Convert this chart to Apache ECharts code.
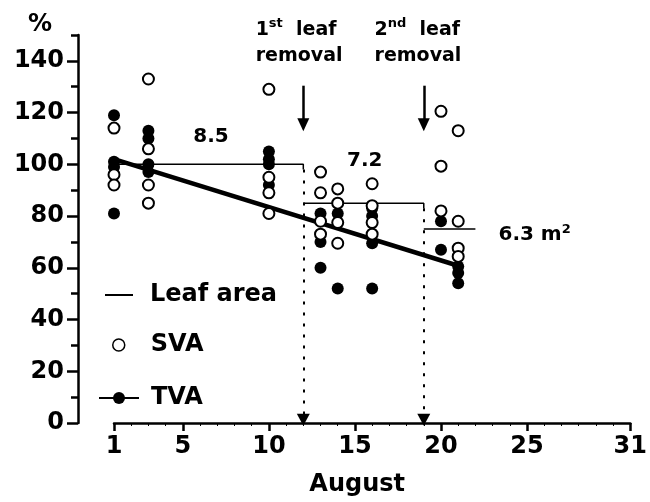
<!DOCTYPE html>
<html>
<head>
<meta charset="utf-8">
<script src="https://cdn.jsdelivr.net/npm/echarts@6/dist/echarts.min.js"></script>
<style>
  html, body { margin: 0; padding: 0; background: #fff; }
  #main { width: 650px; height: 502px; }
</style>
</head>
<body>
<div id="main"></div>
<script>
// x ticks / labels
var xTickDays = [1, 5, 10, 15, 20, 25, 31];
var yMajor = [0, 20, 40, 60, 80, 100, 120, 140];
var yMinor = [10, 30, 50, 70, 90, 110, 130, 150];

// TVA (filled dots)  [day, %]
var tvaPoints = [
    [1, 119], [1, 101], [1, 99], [1, 81],
    [3, 113], [3, 110], [3, 100], [3, 97],
    [10, 105], [10, 102], [10, 100], [10, 92],
    [13, 81], [13, 70], [13, 60],
    [14, 81], [14, 52],
    [16, 83], [16, 80], [16, 69.5], [16, 52],
    [20, 78], [20, 67],
    [21, 60.5], [21, 58], [21, 54]
];
// SVA (open dots)
var svaPoints = [
    [1, 114], [1, 96], [1, 92],
    [3, 133], [3, 106], [3, 92], [3, 85],
    [10, 129], [10, 95], [10, 89], [10, 81],
    [13, 97], [13, 89], [13, 78], [13, 73],
    [14, 90.5], [14, 85], [14, 77.5], [14, 69.5],
    [16, 92.5], [16, 84], [16, 77.5], [16, 73],
    [20, 120.5], [20, 99.3], [20, 82],
    [21, 113], [21, 78], [21, 67.6], [21, 64.4]
];
// TVA trend line
var tvaTrend = [[1, 102], [21, 60.8]];
// leaf area steps (m2 labels 8.5 / 7.2 / 6.3)
var leafArea = [[1, 100], [12, 100], [12, 98], [12, '-'],
    [12, 85], [19, 85], [19, 83], [19, '-'],
    [19, 75], [22, 75]];
var removalDays = [12, 19];

var FONT = 'DejaVu Sans';
var black = '#000';

var chart = echarts.init(document.getElementById('main'));

var supRich = {
    a: { fontSize: 19, fontWeight: 'bold', fontFamily: FONT, color: black, lineHeight: 26 },
    s: { fontSize: 13, fontWeight: 'bold', fontFamily: FONT, color: black, padding: [0, 0, 12, 0] }
};

var option = {
    backgroundColor: '#fff',
    animation: false,
    textStyle: { fontFamily: FONT, fontWeight: 'bold', color: black },
    grid: { left: 114, right: 15, top: 35, bottom: 70 },
    legend: [{
        left: 105, top: 281, padding: 0, selectedMode: false,
        itemWidth: 28, itemHeight: 2,
        textStyle: { fontFamily: FONT, fontWeight: 'bold', fontSize: 24, color: black, lineHeight: 28, padding: [0, 0, 0, 12] },
        data: [{ name: 'Leaf area', icon: 'path://M0,0h28v2h-28z', itemStyle: { color: black } }]
    }, {
        left: 112, top: 331, padding: 0, selectedMode: false,
        itemWidth: 12, itemHeight: 12,
        textStyle: { fontFamily: FONT, fontWeight: 'bold', fontSize: 24, color: black, lineHeight: 28, padding: [0, 0, 0, 21] },
        data: [{ name: 'SVA', icon: 'circle', itemStyle: { color: '#fff', borderColor: black, borderWidth: 1.5 } }]
    }, {
        left: 98, top: 384, padding: 0, selectedMode: false,
        itemWidth: 40, itemHeight: 15,
        textStyle: { fontFamily: FONT, fontWeight: 'bold', fontSize: 24, color: black, lineHeight: 28, padding: [0, 0, 0, 7] },
        data: ['TVA']
    }],
    xAxis: [{
        type: 'value', min: 1, max: 31,
        axisLine: { lineStyle: { color: black, width: 2.5 } },
        axisTick: { customValues: xTickDays, length: 8, lineStyle: { color: black, width: 2.5 } },
        axisLabel: { customValues: xTickDays, margin: 12, color: black, fontFamily: FONT, fontWeight: 'bold', fontSize: 24 },
        splitLine: { show: false },
        name: 'August', nameLocation: 'middle', nameGap: 50,
        nameTextStyle: { color: black, fontFamily: FONT, fontWeight: 'bold', fontSize: 24, padding: [0, 30, 0, 0] }
    }, {
        type: 'value', min: 1, max: 31, interval: 1,
        axisLine: { show: false },
        axisTick: { inside: true, length: 3, lineStyle: { color: black, width: 1 } },
        axisLabel: { show: false },
        splitLine: { show: false }
    }],
    yAxis: [{
        type: 'value', min: 0, max: 150, offset: 36,
        axisLine: { show: true, lineStyle: { color: black, width: 2.5 } },
        axisTick: { show: true, customValues: yMajor, length: 11, lineStyle: { color: black, width: 2.5 } },
        axisLabel: { customValues: yMajor, margin: 14, color: black, fontFamily: FONT, fontWeight: 'bold', fontSize: 24 },
        splitLine: { show: false },
        name: '%', nameLocation: 'end', nameGap: -2,
        nameTextStyle: { color: black, fontFamily: FONT, fontWeight: 'bold', fontSize: 24, align: 'right', padding: [0, 26, 0, 0] }
    }, {
        type: 'value', min: 0, max: 150, offset: 36, position: 'left',
        axisLine: { show: false },
        axisTick: { show: true, customValues: yMinor, length: 7, lineStyle: { color: black, width: 2.5 } },
        axisLabel: { show: false },
        splitLine: { show: false }
    }],
    series: [{
        name: 'TVA', type: 'line', data: tvaTrend,
        symbol: 'circle', showSymbol: false,
        itemStyle: { color: black },
        lineStyle: { color: black, width: 4.5 },
        z: 2, silent: true
    }, {
        name: 'TVA', type: 'scatter', data: tvaPoints,
        symbol: 'circle', symbolSize: 12,
        itemStyle: { color: black, opacity: 1 },
        z: 3,
        markLine: {
            silent: true, symbol: ['none', 'triangle'], symbolSize: [13, 12],
            label: { show: false },
            lineStyle: { color: black, width: 2, type: [3, 8] },
            data: removalDays.map(function (d, i) {
                return [{ coord: [d, i === 0 ? 98 : 83] }, { coord: [d, 1.3] }];
            })
        }
    }, {
        name: 'SVA', type: 'scatter', data: svaPoints,
        symbol: 'emptyCircle', symbolSize: 11,
        itemStyle: { color: black, borderWidth: 1.5, opacity: 1 },
        z: 4,
        markLine: {
            silent: true, symbol: ['none', 'triangle'], symbolSize: [12, 13],
            label: { show: false },
            lineStyle: { color: black, width: 2.5, type: 'solid' },
            data: removalDays.map(function (d) {
                return [{ coord: [d, 130.4] }, { coord: [d, 115.3] }];
            })
        }
    }, {
        name: 'Leaf area', type: 'line', data: leafArea,
        symbol: 'none', connectNulls: false,
        lineStyle: { color: black, width: 1.5 },
        itemStyle: { color: black },
        z: 1, silent: true,
        markPoint: {
            silent: true, symbol: 'circle', symbolSize: 0,
            label: {
                show: true, position: 'inside', color: black,
                fontFamily: FONT, fontWeight: 'bold', fontSize: 20
            },
            data: [
                { coord: [6.64, 110.8], label: { formatter: '8.5' } },
                { coord: [15.57, 101.3], label: { formatter: '7.2' } },
                { coord: [23.34, 72.6], label: { formatter: '6.3 m{s|2}', align: 'left',
                    rich: { s: { fontSize: 13, fontWeight: 'bold', fontFamily: FONT, color: black, padding: [0, 0, 12, 0] } } } },
                { coord: [9.23, 147], label: { formatter: '{a|1}{s|st}{a|  leaf}\n{a|removal}', align: 'left', rich: supRich } },
                { coord: [16.14, 147], label: { formatter: '{a|2}{s|nd}{a|  leaf}\n{a|removal}', align: 'left', rich: supRich } }
            ]
        }
    }]
};

chart.setOption(option);
</script>
</body>
</html>
